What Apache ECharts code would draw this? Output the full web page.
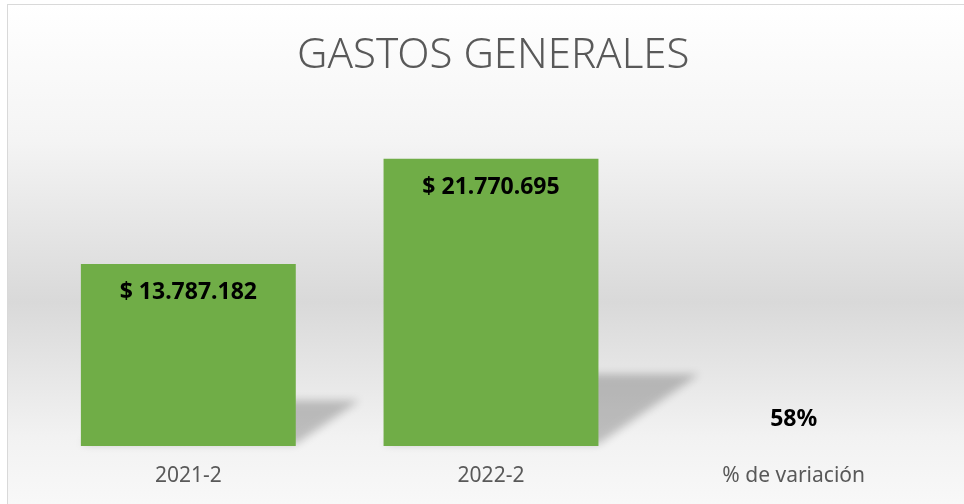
<!DOCTYPE html>
<html>
<head>
<meta charset="utf-8">
<script src="https://cdn.jsdelivr.net/npm/echarts@6/dist/echarts.min.js"></script>
<style>
  html, body { margin: 0; padding: 0; background: #fff; }
  #wrap {
    position: absolute; left: 7px; top: 4px; width: 1000px; height: 540px;
    border-left: 1px solid #d9d9d9; border-top: 1px solid #d9d9d9;
    background: linear-gradient(to bottom, #ffffff 0%, #f4f4f4 25%, #d9d9d9 55%, #f2f2f2 80%, #fcfcfc 100%);
  }
  #chart { position: absolute; left: 0; top: 0; width: 964px; height: 504px; }
</style>
</head>
<body>
<div id="wrap"></div>
<div id="chart"></div>
<script>
const categories = ['2021-2', '2022-2', '% de variación'];
const values = [13787182, 21770695, 0.58];

const fmtMoney = v => '$ ' + Math.round(v).toString().replace(/\B(?=(\d{3})+(?!\d))/g, '.');

const chart = echarts.init(document.getElementById('chart'));
const OFF = 3000; // la forma se dibuja fuera y solo se ve su sombra difuminada

chart.setOption({
  backgroundColor: 'transparent',
  animation: false,
  title: {
    text: 'GASTOS GENERALES',
    left: 297,
    top: 35,
    padding: 0,
    textStyle: { fontFamily: 'Noto Sans', fontSize: 42, fontWeight: 300, color: '#595959' }
  },
  grid: { left: 37, right: 19, top: 116, bottom: 58 },
  xAxis: {
    type: 'category',
    data: categories,
    axisLine: { show: false },
    axisTick: { show: false },
    axisLabel: { fontFamily: 'Noto Sans', fontSize: 21, color: '#595959', margin: 20 }
  },
  yAxis: { type: 'value', min: 0, max: 25000000, show: false },
  series: [
    {
      // sombra en perspectiva detras de cada barra
      type: 'custom',
      z: 1,
      silent: true,
      clip: false,
      data: values.map((v, i) => [i, v]),
      renderItem: (params, api) => {
        const top = api.coord([api.value(0), api.value(1)]);
        const base = api.coord([api.value(0), 0]);
        const w = api.size([1, 0])[0] * 0.71;
        const h = base[1] - top[1];
        if (h < 5) return null;
        const sh = h * 0.25, dx = h * 0.35;
        const x0 = base[0] - OFF;
        return {
          type: 'polygon',
          shape: {
            points: [
              [x0 - w / 2, base[1] - 2],
              [x0 + w / 2, base[1] - 2],
              [x0 + w / 2 + dx, base[1] - sh],
              [x0 - w / 2 + dx, base[1] - sh]
            ]
          },
          style: {
            fill: '#000',
            shadowBlur: 9,
            shadowOffsetX: OFF,
            shadowColor: 'rgba(0,0,0,0.22)'
          }
        };
      }
    },
    {
      type: 'bar',
      z: 2,
      data: values.map((v, i) => i === 2
        ? { value: v, label: { position: 'top', distance: 15 } }
        : v),
      barWidth: '71%',
      itemStyle: { color: '#70AD47' },
      label: {
        show: true,
        position: 'insideTop',
        distance: 17,
        fontFamily: 'Noto Sans',
        fontSize: 23,
        fontWeight: 'bold',
        color: '#000',
        formatter: p => p.dataIndex === 2 ? Math.round(p.value * 100) + '%' : fmtMoney(p.value)
      }
    }
  ]
});
</script>
</body>
</html>
